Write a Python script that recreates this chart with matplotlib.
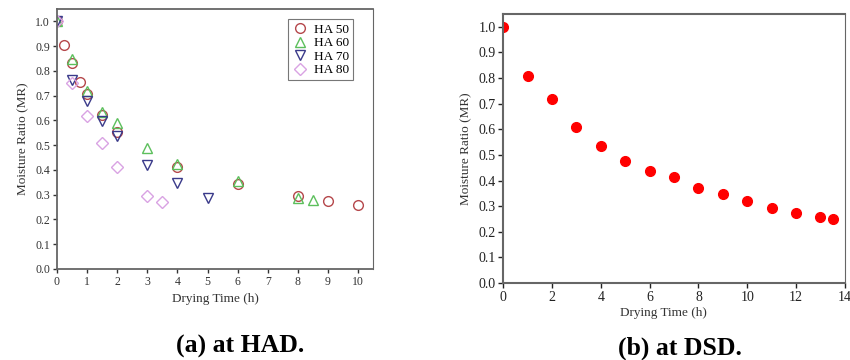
import matplotlib
matplotlib.use("Agg")
import matplotlib.pyplot as plt

plt.rcParams['font.family'] = ['Liberation Serif', 'DejaVu Serif']

# HAD data
t50 = [0, 0.25, 0.5, 0.75, 1, 1.5, 2, 4, 6, 8, 9, 10]
mr50 = [1.0, 0.905, 0.83, 0.757, 0.705, 0.62, 0.555, 0.41, 0.342, 0.293, 0.273, 0.257]
t60 = [0, 0.5, 1, 1.5, 2, 3, 4, 6, 8, 8.5]
mr60 = [1.0, 0.85, 0.72, 0.635, 0.59, 0.49, 0.425, 0.355, 0.285, 0.277]
t70 = [0, 0.5, 1, 1.5, 2, 3, 4, 5]
mr70 = [1.0, 0.765, 0.68, 0.597, 0.535, 0.42, 0.347, 0.287]
t80 = [0, 0.5, 1, 1.5, 2, 3, 3.5]
mr80 = [1.0, 0.75, 0.617, 0.51, 0.41, 0.294, 0.269]
labels_had = ["HA 50", "HA 60", "HA 70", "HA 80"]

# DSD data
t_dsd = [0, 1, 2, 3, 4, 5, 6, 7, 8, 9, 10, 11, 12, 13, 13.5]
mr_dsd = [1.0, 0.81, 0.717, 0.61, 0.535, 0.475, 0.436, 0.415, 0.371, 0.346, 0.319, 0.293, 0.272, 0.258, 0.25]

fig = plt.figure(figsize=(8.5, 3.6), dpi=100)
ax1 = fig.add_axes([0.067, 0.253, 0.372, 0.722])
ax2 = fig.add_axes([0.592, 0.214, 0.402, 0.747])

colors = ["#b5474b", "#5cbf5c", "#3a3a8a", "#d9a3e3"]
markers = ["o", "^", "v", "D"]
sizes = [7, 7.5, 7.5, 6.5]
for (t, mr), c, m, s, lab in zip([(t50, mr50), (t60, mr60), (t70, mr70), (t80, mr80)],
                                  colors, markers, sizes, labels_had):
    ax1.plot(t, mr, linestyle='none', marker=m, markersize=s, markerfacecolor='none',
             markeredgecolor=c, markeredgewidth=1.0, label=lab)

ax1.set_xlim(0, 10.5)
ax1.set_ylim(0, 1.05)
ax1.set_xticks(range(0, 11))
ax1.set_yticks([i / 10 for i in range(0, 11)])
ax1.set_yticklabels([f"{i/10:.1f}" for i in range(0, 11)])
ax1.tick_params(labelsize=8.5, direction='out', length=3, width=1, colors='#333333', pad=2)
ax1.set_xlabel("Drying Time (h)", fontsize=9.5, color='#333333', labelpad=4)
ax1.set_ylabel("Moisture Ratio (MR)", fontsize=9.5, color='#333333', labelpad=4)
for sp in ax1.spines.values():
    sp.set_color('#666666')
ax1.spines['left'].set_linewidth(1.3)
ax1.spines['bottom'].set_linewidth(1.3)
ax1.spines['top'].set_linewidth(1.3)
ax1.spines['right'].set_linewidth(0.8)
leg = ax1.legend(loc='upper right', bbox_to_anchor=(0.95, 0.975), fontsize=9.5, frameon=True,
                 fancybox=False, edgecolor='#555555', handletextpad=0.4, borderpad=0.3,
                 labelspacing=0.1, handlelength=1.3, borderaxespad=0.3)
leg.get_frame().set_linewidth(0.8)

ax2.plot(t_dsd, mr_dsd, linestyle='none', marker='o', markersize=7, color='#ff0000',
         markeredgecolor='#ff0000')
ax2.set_xlim(0, 14)
ax2.set_ylim(0, 1.05)
ax2.set_xticks(range(0, 15, 2))
ax2.set_yticks([i / 10 for i in range(0, 11)])
ax2.set_yticklabels([f"{i/10:.1f}" for i in range(0, 11)])
ax2.tick_params(labelsize=10, direction='out', length=3.5, width=1, colors='#222222', pad=2)
ax2.set_xlabel("Drying Time (h)", fontsize=9.5, color='#333333', labelpad=1)
ax2.xaxis.set_label_coords(0.47, -0.09)
ax2.set_ylabel("Moisture Ratio (MR)", fontsize=9.5, color='#333333', labelpad=4)
for sp in ax2.spines.values():
    sp.set_color('#666666')
ax2.spines['left'].set_linewidth(1.5)
ax2.spines['bottom'].set_linewidth(1.5)
ax2.spines['top'].set_linewidth(1.5)
ax2.spines['right'].set_linewidth(0.8)

fig.text(240 / 850, 1 - 346 / 360, "(a) at HAD.", ha='center', va='center', fontsize=18.5, fontweight='bold')
fig.text(680 / 850, 1 - 348 / 360, "(b) at DSD.", ha='center', va='center', fontsize=18.5, fontweight='bold')

fig.savefig("out.png", dpi=100)
